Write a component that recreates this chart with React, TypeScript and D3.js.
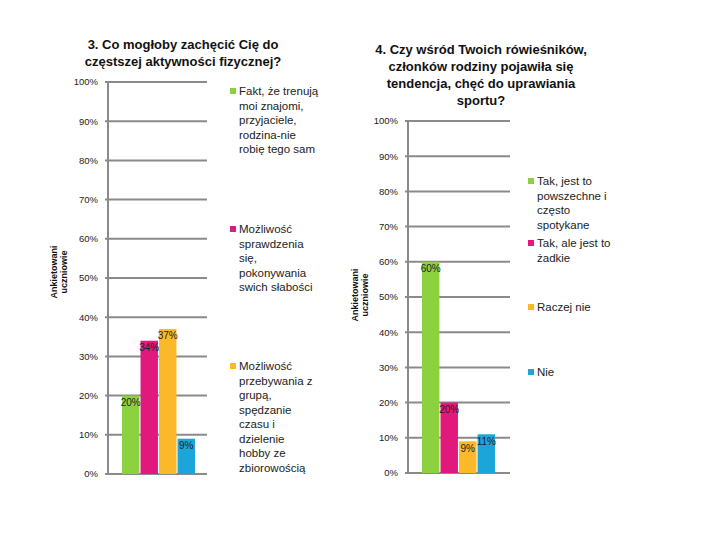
import { scaleLinear, scaleBand } from "d3";

// data
const tickValues = [0, 10, 20, 30, 40, 50, 60, 70, 80, 90, 100];
const axisTitle = ["Ankietowani", "uczniowie"];
const colors = ["#8cd13f", "#e2197c", "#fbb829", "#1ca5d8"];

const q3Title = ["3. Co mogłoby zachęcić Cię do", "częstszej aktywności fizycznej?"];
const q3Values = [20, 34, 37, 9];
const q3Legend = [
  ["Fakt, że trenują", "moi znajomi,", "przyjaciele,", "rodzina-nie", "robię tego sam"],
  ["Możliwość", "sprawdzenia", "się,", "pokonywania", "swich słabości"],
  ["Możliwość", "przebywania z", "grupą,", "spędzanie", "czasu i", "dzielenie", "hobby ze", "zbiorowością"],
];

const q4Title = [
  "4. Czy wśród Twoich rówieśników,",
  "członków rodziny pojawiła się",
  "tendencja, chęć do uprawiania",
  "sportu?",
];
const q4Values = [60, 20, 9, 11];
const q4Legend = [
  ["Tak, jest to", "powszechne i", "często", "spotykane"],
  ["Tak, ale jest to", "żadkie"],
  ["Raczej nie"],
  ["Nie"],
];

interface ChartProps {
  title: string[];
  titleX: number;
  titleY: number;
  values: number[];
  legend: string[][];
  legendX: number;
  legendY: number[];
  axisX: number;
  gridEnd: number;
  yTop: number;
  yBottom: number;
  barStart: number;
  barEnd: number;
  axisTitleX: number;
  axisTitleY: number;
}

const Chart = (p: ChartProps) => {
  const y = scaleLinear().domain([0, 100]).range([p.yBottom, p.yTop]);
  const x = scaleBand<number>()
    .domain(p.values.map((_, i) => i))
    .range([p.barStart, p.barEnd])
    .paddingInner(0.06);

  return (
    <g>
      {p.title.map((t, i) => (
        <text
          key={i}
          x={p.titleX}
          y={p.titleY + i * 17}
          textAnchor="middle"
          fontFamily="'Liberation Sans', Arial, sans-serif"
          fontWeight="bold"
          fontSize={13}
          fill="#111"
        >
          {t}
        </text>
      ))}

      {/* grid + ticks */}
      {tickValues.map((v) => (
        <g key={v}>
          <line
            x1={p.axisX - 3}
            x2={p.gridEnd}
            y1={y(v)}
            y2={y(v)}
            stroke="#8a8a8a"
            strokeWidth={2}
          />
          <text
            x={p.axisX - 10}
            y={y(v)}
            dy="0.35em"
            textAnchor="end"
            fontFamily="'Liberation Sans', Arial, sans-serif"
            fontSize={9.5}
            fill="#222"
          >
            {v}%
          </text>
        </g>
      ))}
      <line
        x1={p.axisX}
        x2={p.axisX}
        y1={p.yTop}
        y2={p.yBottom}
        stroke="#8a8a8a"
        strokeWidth={2}
      />

      {/* axis title */}
      <g transform={`translate(${p.axisTitleX},${p.axisTitleY}) rotate(-90)`}>
        {axisTitle.map((t, i) => (
          <text
            key={i}
            x={0}
            y={i * 10}
            textAnchor="middle"
            fontFamily="'Liberation Sans Narrow', 'Liberation Sans', Arial, sans-serif"
            fontWeight="bold"
            fontSize={9}
            fill="#111"
          >
            {t}
          </text>
        ))}
      </g>

      {/* bars */}
      {p.values.map((v, i) => (
        <g key={i}>
          <rect
            x={x(i)}
            y={y(v)}
            width={x.bandwidth()}
            height={y(0) - y(v)}
            fill={colors[i]}
          />
          <text
            x={(x(i) ?? 0) + x.bandwidth() / 2}
            y={y(v) + 7}
            dy="0.35em"
            textAnchor="middle"
            fontFamily="'Liberation Sans', Arial, sans-serif"
            fontSize={10}
            fill="#222"
          >
            {v}%
          </text>
        </g>
      ))}

      {/* legend */}
      {p.legend.map((lines, i) => (
        <g key={i}>
          <rect x={p.legendX} y={p.legendY[i] - 3} width={6} height={6} fill={colors[i]} />
          {lines.map((t, j) => (
            <text
              key={j}
              x={p.legendX + 9}
              y={p.legendY[i] + j * 14.5}
              dy="0.35em"
              fontFamily="'Liberation Sans', Arial, sans-serif"
              fontSize={11.5}
              fill="#222"
            >
              {t}
            </text>
          ))}
        </g>
      ))}
    </g>
  );
};

export default function App() {
  return (
    <svg
      width={720}
      height={540}
      style={{ position: "absolute", left: 0, top: 0, background: "#fff" }}
    >
      <Chart
        title={q3Title}
        titleX={183}
        titleY={49}
        values={q3Values}
        legend={q3Legend}
        legendX={230}
        legendY={[91, 229, 366]}
        axisX={108}
        gridEnd={207}
        yTop={82}
        yBottom={474}
        barStart={122}
        barEnd={195}
        axisTitleX={57}
        axisTitleY={272}
      />
      <Chart
        title={q4Title}
        titleX={481}
        titleY={54}
        values={q4Values}
        legend={q4Legend}
        legendX={528}
        legendY={[181, 243, 307, 372]}
        axisX={408}
        gridEnd={510}
        yTop={121}
        yBottom={473}
        barStart={422}
        barEnd={495}
        axisTitleX={358}
        axisTitleY={295}
      />
    </svg>
  );
}
